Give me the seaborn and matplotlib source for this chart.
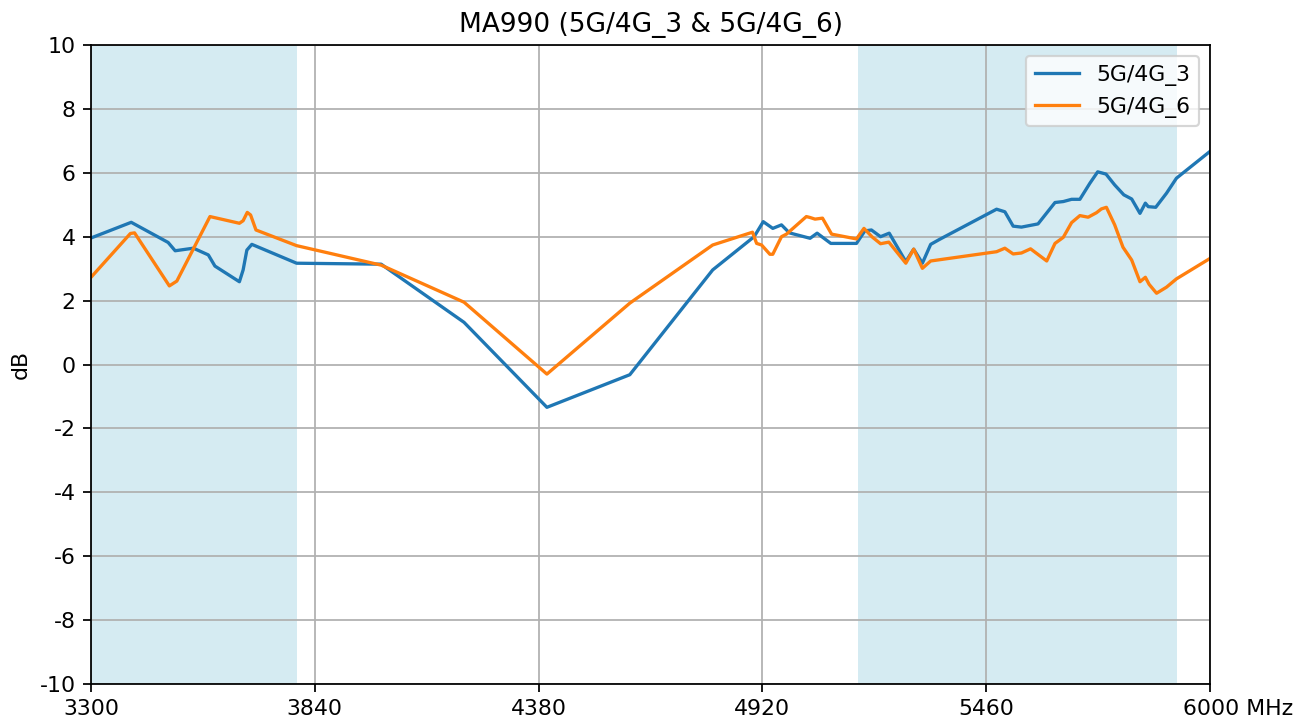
import pandas as pd
import seaborn as sns
from matplotlib import pyplot as plt
from matplotlib import transforms

# 5G/4G_3 trace
freq_3 = [3300, 3397, 3486, 3503, 3547, 3583, 3599, 3658, 3667, 3676, 3688, 3796,
          4000, 4200, 4400, 4600, 4800, 4900, 4922, 4945, 4966, 4985, 5035, 5052,
          5085, 5147, 5167, 5183, 5205, 5226, 5266, 5285, 5306, 5326, 5348, 5485,
          5505, 5525, 5545, 5585, 5626, 5646, 5666, 5686, 5710, 5729, 5749, 5770,
          5792, 5811, 5831, 5844, 5851, 5869, 5895, 5919, 6000]
db_3 = [3.96, 4.45, 3.82, 3.56, 3.64, 3.43, 3.08, 2.59, 2.96, 3.58, 3.76, 3.17,
        3.14, 1.32, -1.34, -0.32, 2.96, 4.0, 4.47, 4.26, 4.37, 4.12, 3.95, 4.11,
        3.79, 3.79, 4.18, 4.21, 4.0, 4.11, 3.22, 3.61, 3.17, 3.76, 3.92, 4.86,
        4.78, 4.33, 4.30, 4.40, 5.07, 5.10, 5.17, 5.17, 5.67, 6.03, 5.96, 5.62,
        5.31, 5.18, 4.73, 5.05, 4.94, 4.92, 5.36, 5.83, 6.67]

# 5G/4G_6 trace
freq_6 = [3300, 3395, 3405, 3489, 3507, 3587, 3658, 3667, 3677, 3685, 3698, 3796,
          4000, 4200, 4400, 4600, 4800, 4896, 4906, 4918, 4938, 4945, 4966, 4978,
          5026, 5035, 5047, 5065, 5087, 5147, 5165, 5185, 5205, 5225, 5266, 5285,
          5306, 5326, 5485, 5505, 5525, 5545, 5567, 5606, 5626, 5646, 5666, 5686,
          5706, 5726, 5738, 5750, 5770, 5790, 5811, 5831, 5844, 5853, 5871, 5895,
          5919, 6000]
db_6 = [2.73, 4.10, 4.12, 2.46, 2.61, 4.63, 4.42, 4.50, 4.76, 4.68, 4.21, 3.72,
        3.11, 1.95, -0.30, 1.92, 3.74, 4.14, 3.79, 3.74, 3.45, 3.45, 4.0, 4.08,
        4.63, 4.60, 4.55, 4.58, 4.08, 3.93, 4.26, 3.99, 3.78, 3.83, 3.17, 3.61,
        3.01, 3.24, 3.53, 3.64, 3.46, 3.49, 3.62, 3.24, 3.79, 3.98, 4.44, 4.66,
        4.61, 4.75, 4.87, 4.92, 4.37, 3.67, 3.27, 2.59, 2.73, 2.51, 2.23, 2.42,
        2.68, 3.32]

bands = [(3300, 3797), (5150, 5920)]
xticks = [3300, 3840, 4380, 4920, 5460, 6000]
xtick_labels = ['3300', '3840', '4380', '4920', '5460', '6000 MHz']

df3 = pd.DataFrame({'freq': freq_3, 'db': db_3})
df6 = pd.DataFrame({'freq': freq_6, 'db': db_6})

plt.rcParams['axes.unicode_minus'] = False
DPI = 158
fig, ax = plt.subplots(figsize=(1306 / DPI, 722 / DPI), dpi=DPI)
plt.subplots_adjust(left=0.0697, right=0.9265, top=0.9377, bottom=0.0526)

for lo, hi in bands:
    ax.axvspan(lo, hi, color='lightblue', alpha=0.5, lw=0)

sns.lineplot(data=df3, x='freq', y='db', color='#1f77b4', label='5G/4G_3', ax=ax)
sns.lineplot(data=df6, x='freq', y='db', color='#ff7f0e', label='5G/4G_6', ax=ax)

ax.set_xlim(3300, 6000)
ax.set_ylim(-10, 10)
ax.set_yticks(range(-10, 11, 2))
ax.set_xticks(xticks)
ax.set_xticklabels(xtick_labels)
ax.grid(True, color='#b0b0b0', lw=0.8)
ax.set_xlabel('')
ax.set_ylabel('dB')
ax.set_title('MA990 (5G/4G_3 & 5G/4G_6)')
ax.legend(loc='upper right')

# last label starts just left of its tick
last = ax.get_xticklabels()[-1]
last.set_horizontalalignment('left')
last.set_transform(last.get_transform() + transforms.ScaledTranslation(-27 / DPI, 0, fig.dpi_scale_trans))

plt.savefig('out.png', dpi=DPI)
